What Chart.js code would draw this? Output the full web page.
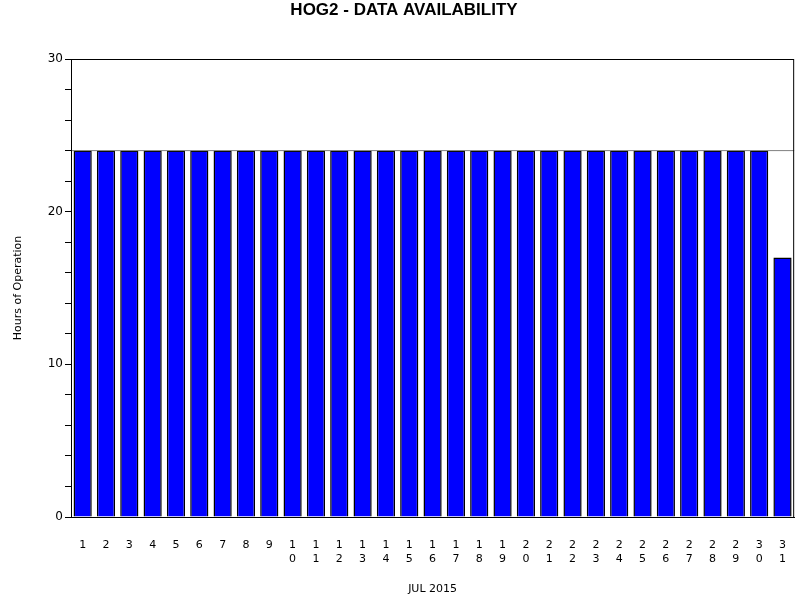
<!DOCTYPE html>
<html>
<head>
<script src="https://cdn.jsdelivr.net/npm/chart.js@4/dist/chart.umd.min.js"></script>
<style>body{margin:0;background:#fff}#wrap{width:800px;height:600px}</style>
</head>
<body>
<div id="wrap"><canvas id="c"></canvas></div>
<script>
const days = [];
for (let d = 1; d <= 31; d++) days.push(String(d));
const hours = [24,24,24,24,24,24,24,24,24,24,24,24,24,24,24,24,24,24,24,24,24,24,24,24,24,24,24,24,24,24,17];
const yTicks = [0, 10, 20, 30];
const refLine = 24;

// рамка графика и линия 24 ч
const frame = {
  id: 'frame',
  afterDatasetsDraw(chart) {
    const { ctx, chartArea: a, scales } = chart;
    const y = scales.y.getPixelForValue(refLine);
    ctx.save();
    ctx.strokeStyle = '#808080';
    ctx.lineWidth = 1;
    ctx.beginPath(); ctx.moveTo(a.left, y); ctx.lineTo(a.right, y); ctx.stroke();
    ctx.strokeStyle = '#000';
    ctx.strokeRect(a.left + 0.5, a.top + 0.5, a.right - a.left - 1, a.bottom - a.top);
    ctx.restore();
  }
};

new Chart(document.getElementById('c'), {
  type: 'bar',
  data: {
    labels: days.map(d => d.length > 1 ? d.split('') : d),
    datasets: [{
      data: hours,
      backgroundColor: '#0000ff',
      borderColor: '#000',
      borderWidth: 1.5,
      barPercentage: 0.78,
      categoryPercentage: 1
    }]
  },
  options: {
    responsive: true,
    maintainAspectRatio: false,
    animation: false,
    layout: { padding: { right: 0, left: 8 } },
    plugins: {
      legend: { display: false },
      tooltip: { enabled: false },
      title: {
        display: true,
        text: 'HOG2 - DATA AVAILABILITY',
        color: '#000',
        font: { family: 'Liberation Sans', size: 17, weight: 'bold' },
        padding: { top: 0, bottom: 38.6 }
      }
    },
    scales: {
      x: {
        grid: { display: false },
        border: { color: '#000', width: 1 },
        ticks: { color: '#000', font: { family: 'DejaVu Sans', size: 11 }, maxRotation: 0, autoSkip: false, padding: 14 },
        title: { display: true, text: 'JUL 2015', color: '#000', font: { family: 'DejaVu Sans', size: 11 }, padding: { top: 4 } },
        afterFit(s) { s.height = 83; }
      },
      y: {
        min: 0, max: 30,
        grid: { drawOnChartArea: false, color: '#000', tickLength: 6 },
        border: { color: '#000', width: 1 },
        ticks: {
          stepSize: 2, color: '#000', font: { family: 'DejaVu Sans', size: 12 }, padding: 2,
          callback: v => yTicks.includes(v) ? v : ''
        },
        title: { display: true, text: 'Hours of Operation', color: '#000', font: { family: 'DejaVu Sans', size: 11 } },
        afterFit(s) { s.width = 63; }
      }
    }
  },
  plugins: [frame]
});
</script>
</body>
</html>
